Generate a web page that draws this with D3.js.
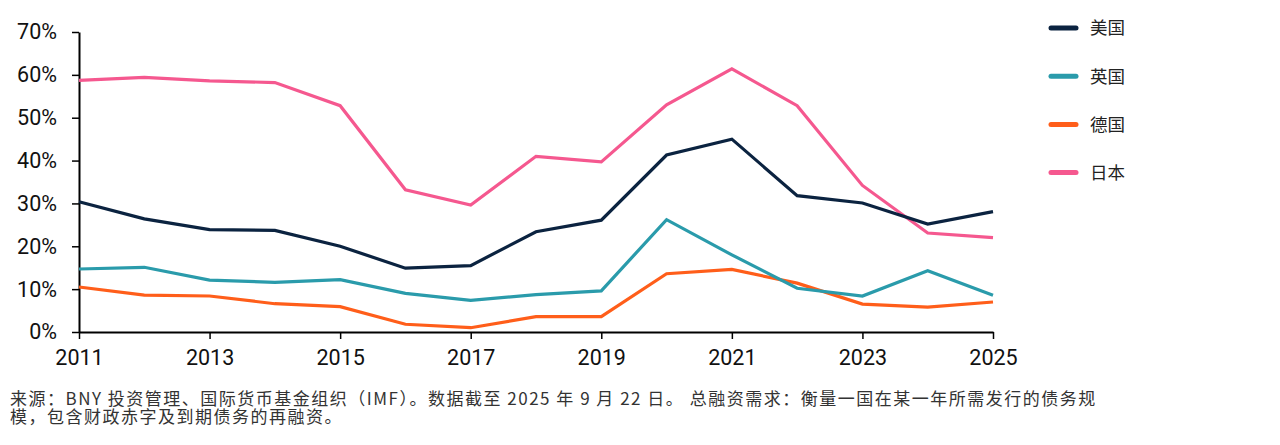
<!DOCTYPE html>
<html><head><meta charset="utf-8">
<script src="https://cdn.jsdelivr.net/npm/d3@7"></script>
<style>
html,body{margin:0;padding:0;background:#fff;}
#wrap{position:relative;width:1280px;height:445px;}
svg{display:block;position:absolute;left:0;top:0;}
#foot{position:absolute;left:10px;top:389px;font-family:'Noto Sans CJK SC',sans-serif;font-size:17px;line-height:18px;letter-spacing:1.5px;color:#333;white-space:nowrap;margin:0;}
</style></head>
<body>
<div id="wrap">
<svg id="c" width="1280" height="445"></svg>
<p id="foot"></p>
</div>
<script>
const years = [2011,2012,2013,2014,2015,2016,2017,2018,2019,2020,2021,2022,2023,2024,2025];
const seriesNames = ["美国","英国","德国","日本"];
const usValues = [30.4,26.4,23.9,23.7,20.0,14.9,15.5,23.4,26.1,41.3,45.0,31.8,30.1,25.2,28.1];
const ukValues = [14.7,15.1,12.1,11.6,12.2,9.0,7.4,8.7,9.6,26.2,18.0,10.2,8.4,14.3,8.6];
const deValues = [10.5,8.6,8.4,6.6,5.9,1.8,1.0,3.6,3.6,13.6,14.6,11.4,6.5,5.8,7.0];
const jpValues = [58.7,59.4,58.6,58.2,52.8,33.2,29.6,41.0,39.7,53.0,61.4,52.8,34.2,23.1,22.0];
const seriesColors = ["#0b2340","#2a9bab","#ff5e1a","#f5588f"];
const xTickYears = [2011,2013,2015,2017,2019,2021,2023,2025];
const yTickValues = [0,10,20,30,40,50,60,70];
const footnoteLines = [
  "来源：BNY 投资管理、国际货币基金组织（IMF）。数据截至 2025 年 9 月 22 日。 总融资需求：衡量一国在某一年所需发行的债务规",
  "模，包含财政赤字及到期债务的再融资。"
];

const svg = d3.select("#c");
const x = d3.scaleLinear().domain([2011,2025]).range([79,993]);
const y = d3.scaleLinear().domain([0,70]).range([332,32]);
const tickFont = "Roboto, 'Noto Sans', sans-serif";

// axes
const yAxis = svg.append("g").attr("transform","translate(79,0)")
  .call(d3.axisLeft(y).tickValues(yTickValues).tickFormat(d=>d+"%").tickSize(7).tickSizeOuter(0).tickPadding(15));
const xAxis = svg.append("g").attr("transform","translate(0,332)")
  .call(d3.axisBottom(x).tickValues(xTickYears).tickFormat(d3.format("d")).tickSize(7).tickSizeOuter(0).tickPadding(11));
[yAxis,xAxis].forEach(g=>{
  g.selectAll("path.domain").attr("stroke","#000").attr("stroke-width",2);
  g.selectAll(".tick line").attr("stroke","#000").attr("stroke-width",1.5);
  g.selectAll(".tick text").attr("fill","#111").style("font-family",tickFont).style("font-size","21.5px");
});

// lines
const allSeries = [usValues,ukValues,deValues,jpValues];
const line = d3.line().x((d,i)=>x(years[i])).y(d=>y(d));
const drawOrder = [2,1,3,0];
drawOrder.forEach(k=>{
  svg.append("path").datum(allSeries[k]).attr("d",line)
    .attr("fill","none").attr("stroke",seriesColors[k]).attr("stroke-width",3.2)
    .attr("stroke-linejoin","miter");
});

// legend
const lg = svg.append("g");
seriesNames.forEach((n,i)=>{
  const yy = 28 + i*48.2;
  lg.append("line").attr("x1",1051).attr("x2",1076).attr("y1",yy).attr("y2",yy)
    .attr("stroke",seriesColors[i]).attr("stroke-width",5).attr("stroke-linecap","round");
  lg.append("text").attr("x",1090).attr("y",yy).attr("dy","0.36em")
    .style("font-family","'Noto Sans CJK SC', sans-serif").style("font-size","17.5px").attr("fill","#222").text(n);
});

// footnote: one paragraph, forced line break as in the reference
const foot = d3.select("#foot");
footnoteLines.forEach((t,i)=>{
  if(i>0) foot.append("br");
  foot.append(()=>document.createTextNode(t));
});
</script>
</body></html>
